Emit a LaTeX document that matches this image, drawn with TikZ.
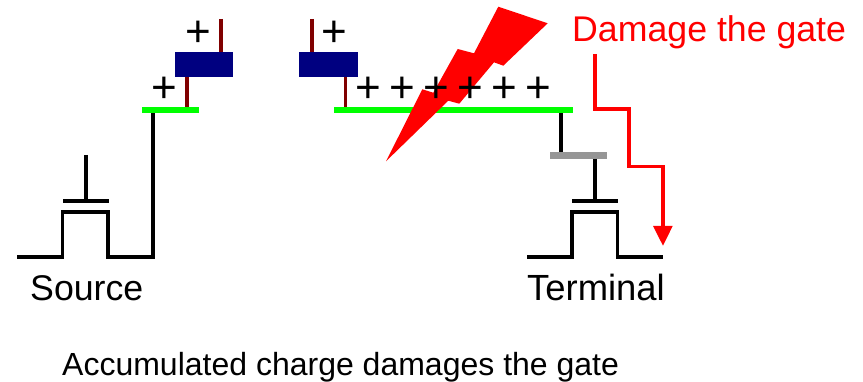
\documentclass[tikz,border=0pt]{standalone}
\usepackage{fontspec}
\setmainfont{Liberation Sans}
\definecolor{navyb}{RGB}{0,0,128}
\definecolor{darkr}{RGB}{128,0,0}
\definecolor{brightg}{RGB}{0,255,0}
\definecolor{grayb}{RGB}{150,150,150}
\tikzset{
  bar/.style={draw=none,inner sep=0pt,minimum height=6.4pt},
  greenbar/.style={bar,fill=brightg},
  graybar/.style={bar,fill=grayb},
  bluebox/.style={draw=none,fill=navyb,inner sep=0pt,minimum width=58.5pt,minimum height=25pt},
  lead/.style={darkr,line width=3.2pt},
  wire/.style={black,line width=3.2pt,line join=miter},
  pluss/.style={inner sep=0pt,font=\fontsize{44}{44}\selectfont},
  lbl/.style={inner sep=0pt,anchor=base west,font=\fontsize{35.7}{36}\selectfont},
  redline/.style={red,line width=3.2pt,line join=miter}
}
\begin{document}
\begin{tikzpicture}[x=1pt,y=-1pt]
\useasboundingbox (0,0) rectangle (863,382);
% bars and boxes
\node[bluebox] (boxa) at (204,64.5) {};
\node[bluebox] (boxb) at (328.7,64.5) {};
\node[greenbar,minimum width=57pt] (grA) at (170.5,110) {};
\node[greenbar,minimum width=239pt] (grB) at (453.4,110) {};
\node[graybar,minimum width=57pt] (gry) at (578,155.5) {};
% free ends
\coordinate (leadAtop) at (221,19);
\coordinate (leadBtop) at (312,19);
\draw[lead] (leadAtop) -- (leadAtop |- boxa.north);
\draw[lead] (leadBtop) -- (leadBtop |- boxb.north);
\coordinate (xa) at (187,0);
\coordinate (xb) at (345.7,0);
\draw[lead] (xa |- boxa.south) -- (xa |- grA.north);
\draw[lead] (xb |- boxb.south) -- (xb |- grB.north);
% left transistor
\coordinate (sL) at (17,257);
\coordinate (sR) at (153,257);
\coordinate (gAl) at (63,201);
\coordinate (gAr) at (108.5,201);
\coordinate (stemA) at (86,155);
\draw[wire] (sL) -- (62.5,257) -- (62.5,212) -- (108,212) -- (108,257) -- (sR) -- (sR |- grA.south);
\draw[wire] (gAl) -- (gAr);
\draw[wire] (stemA) -- (stemA |- gAl);
% right transistor
\coordinate (tL) at (527,257);
\coordinate (tR) at (663,257);
\coordinate (gBl) at (572,201);
\coordinate (gBr) at (618,201);
\coordinate (stemB) at (595,0);
\coordinate (xc) at (561,0);
\draw[wire] (tL) -- (572,257) -- (572,212) -- (617.7,212) -- (617.7,257) -- (tR);
\draw[wire] (gBl) -- (gBr);
\draw[wire] (stemB |- gry.south) -- (stemB |- gBl);
\draw[wire] (xc |- grB.south) -- (xc |- gry.north);
% lightning
\fill[red] (498.3,6.7) -- (547.7,23.3) -- (503.3,65.7) -- (494,62.3) -- (459.3,103.7) -- (448.3,100.7) -- (386,161.3) -- (422.3,89.3) -- (433.3,92.7) -- (457.7,49) -- (474,53.3) -- cycle;
% plus signs
\node[pluss] (p1) at (198.3,33.7) {+};
\node[pluss] (p2) at (334.3,33.7) {+};
\node[pluss] (p3) at (164.3,90.3) {+};
\node[pluss] (p4) at (368.3,90.3) {+};
\node[pluss] (p5) at (402.3,90.3) {+};
\node[pluss] (p6) at (436.3,90.3) {+};
\node[pluss] (p7) at (470.3,90.3) {+};
\node[pluss] (p8) at (504.3,90.3) {+};
\node[pluss] (p9) at (538.3,90.3) {+};
% labels
\node[lbl,red] (dmg) at (572,42) {Damage the gate};
\node[lbl] (src) at (30,300.5) {Source};
\node[lbl,font=\fontsize{36.4}{36}\selectfont] (trm) at (527,300.5) {Terminal};
\node[lbl,font=\fontsize{32}{32}\selectfont] (cap) at (62,376) {Accumulated charge damages the gate};
% red arrow
\coordinate (rA) at (595,54);
\coordinate (rB) at (663,229);
\coordinate (rTip) at (663,245.7);
\draw[redline] (rA) -- (595,109) -- (629,109) -- (629,166.7) -- (663,166.7) -- (rB);
\fill[red] (653,226) -- (672.7,226) -- (rTip) -- cycle;
\end{tikzpicture}
\end{document}
